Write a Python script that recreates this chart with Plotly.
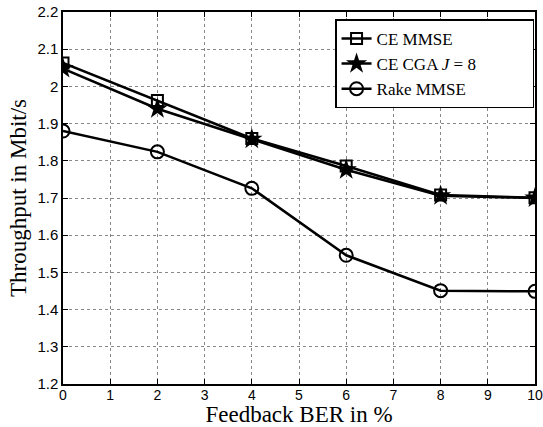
import plotly.graph_objects as go

ber = [0, 2, 4, 6, 8, 10]
ce_mmse = [2.063, 1.962, 1.860, 1.786, 1.708, 1.701]
ce_cga = [2.048, 1.940, 1.858, 1.776, 1.706, 1.700]
rake_mmse = [1.880, 1.824, 1.726, 1.546, 1.451, 1.449]

x_ticks = list(range(0, 11))
y_ticks = [1.2, 1.3, 1.4, 1.5, 1.6, 1.7, 1.8, 1.9, 2.0, 2.1, 2.2]
y_labels = ["1.2", "1.3", "1.4", "1.5", "1.6", "1.7", "1.8", "1.9", "2", "2.1", "2.2"]
series_names = ["CE MMSE", "CE CGA <i>J</i> = 8", "Rake MMSE"]

pad = "&nbsp;" * 12

fig = go.Figure()
fig.add_trace(go.Scatter(x=ber, y=ce_mmse, mode="lines+markers", name=series_names[0],
                         line=dict(color="black", width=2.5),
                         marker=dict(symbol="square-open", size=11, color="black", line=dict(width=2))))
fig.add_trace(go.Scatter(x=ber, y=ce_cga, mode="lines+markers", name=series_names[1] + pad,
                         line=dict(color="black", width=2.5),
                         marker=dict(symbol="star", size=16, color="black", line=dict(width=0))))
fig.add_trace(go.Scatter(x=ber, y=rake_mmse, mode="lines+markers", name=series_names[2],
                         line=dict(color="black", width=2.5),
                         marker=dict(symbol="circle-open", size=13, color="black", line=dict(width=2))))

axis_common = dict(showline=True, linecolor="black", linewidth=1.5, mirror="ticks",
                   ticks="inside", ticklen=5, tickcolor="black",
                   showgrid=True, gridcolor="#888888", griddash="dot", gridwidth=1,
                   zeroline=False, automargin=False, ticklabeloverflow="allow")

fig.update_xaxes(range=[0, 10], tickvals=x_ticks, ticktext=[str(v) for v in x_ticks],
                 ticklabelstandoff=-3,
                 tickfont=dict(family="Liberation Sans, Arial", size=14, color="black"),
                 title=dict(text="Feedback BER in %", font=dict(family="Liberation Serif, Times New Roman", size=23, color="black"), standoff=2),
                 **axis_common)
fig.update_yaxes(range=[1.2, 2.2], tickvals=y_ticks, ticktext=y_labels,
                 ticklabelstandoff=0,
                 tickfont=dict(family="Liberation Sans, Arial", size=15, color="black"),
                 title=dict(text="Throughput in Mbit/s", font=dict(family="Liberation Serif, Times New Roman", size=23, color="black"), standoff=4),
                 **axis_common)

fig.update_layout(
    width=543, height=427,
    margin=dict(l=63, r=8, t=12, b=43),
    plot_bgcolor="white", paper_bgcolor="white",
    legend=dict(x=0.998, y=0.98, xanchor="right", yanchor="top",
                bgcolor="white", bordercolor="black", borderwidth=1.5,
                font=dict(family="Liberation Serif, Times New Roman", size=17, color="black"),
                tracegroupgap=0, itemwidth=30),
    showlegend=True,
)

fig.write_html("out.html")
